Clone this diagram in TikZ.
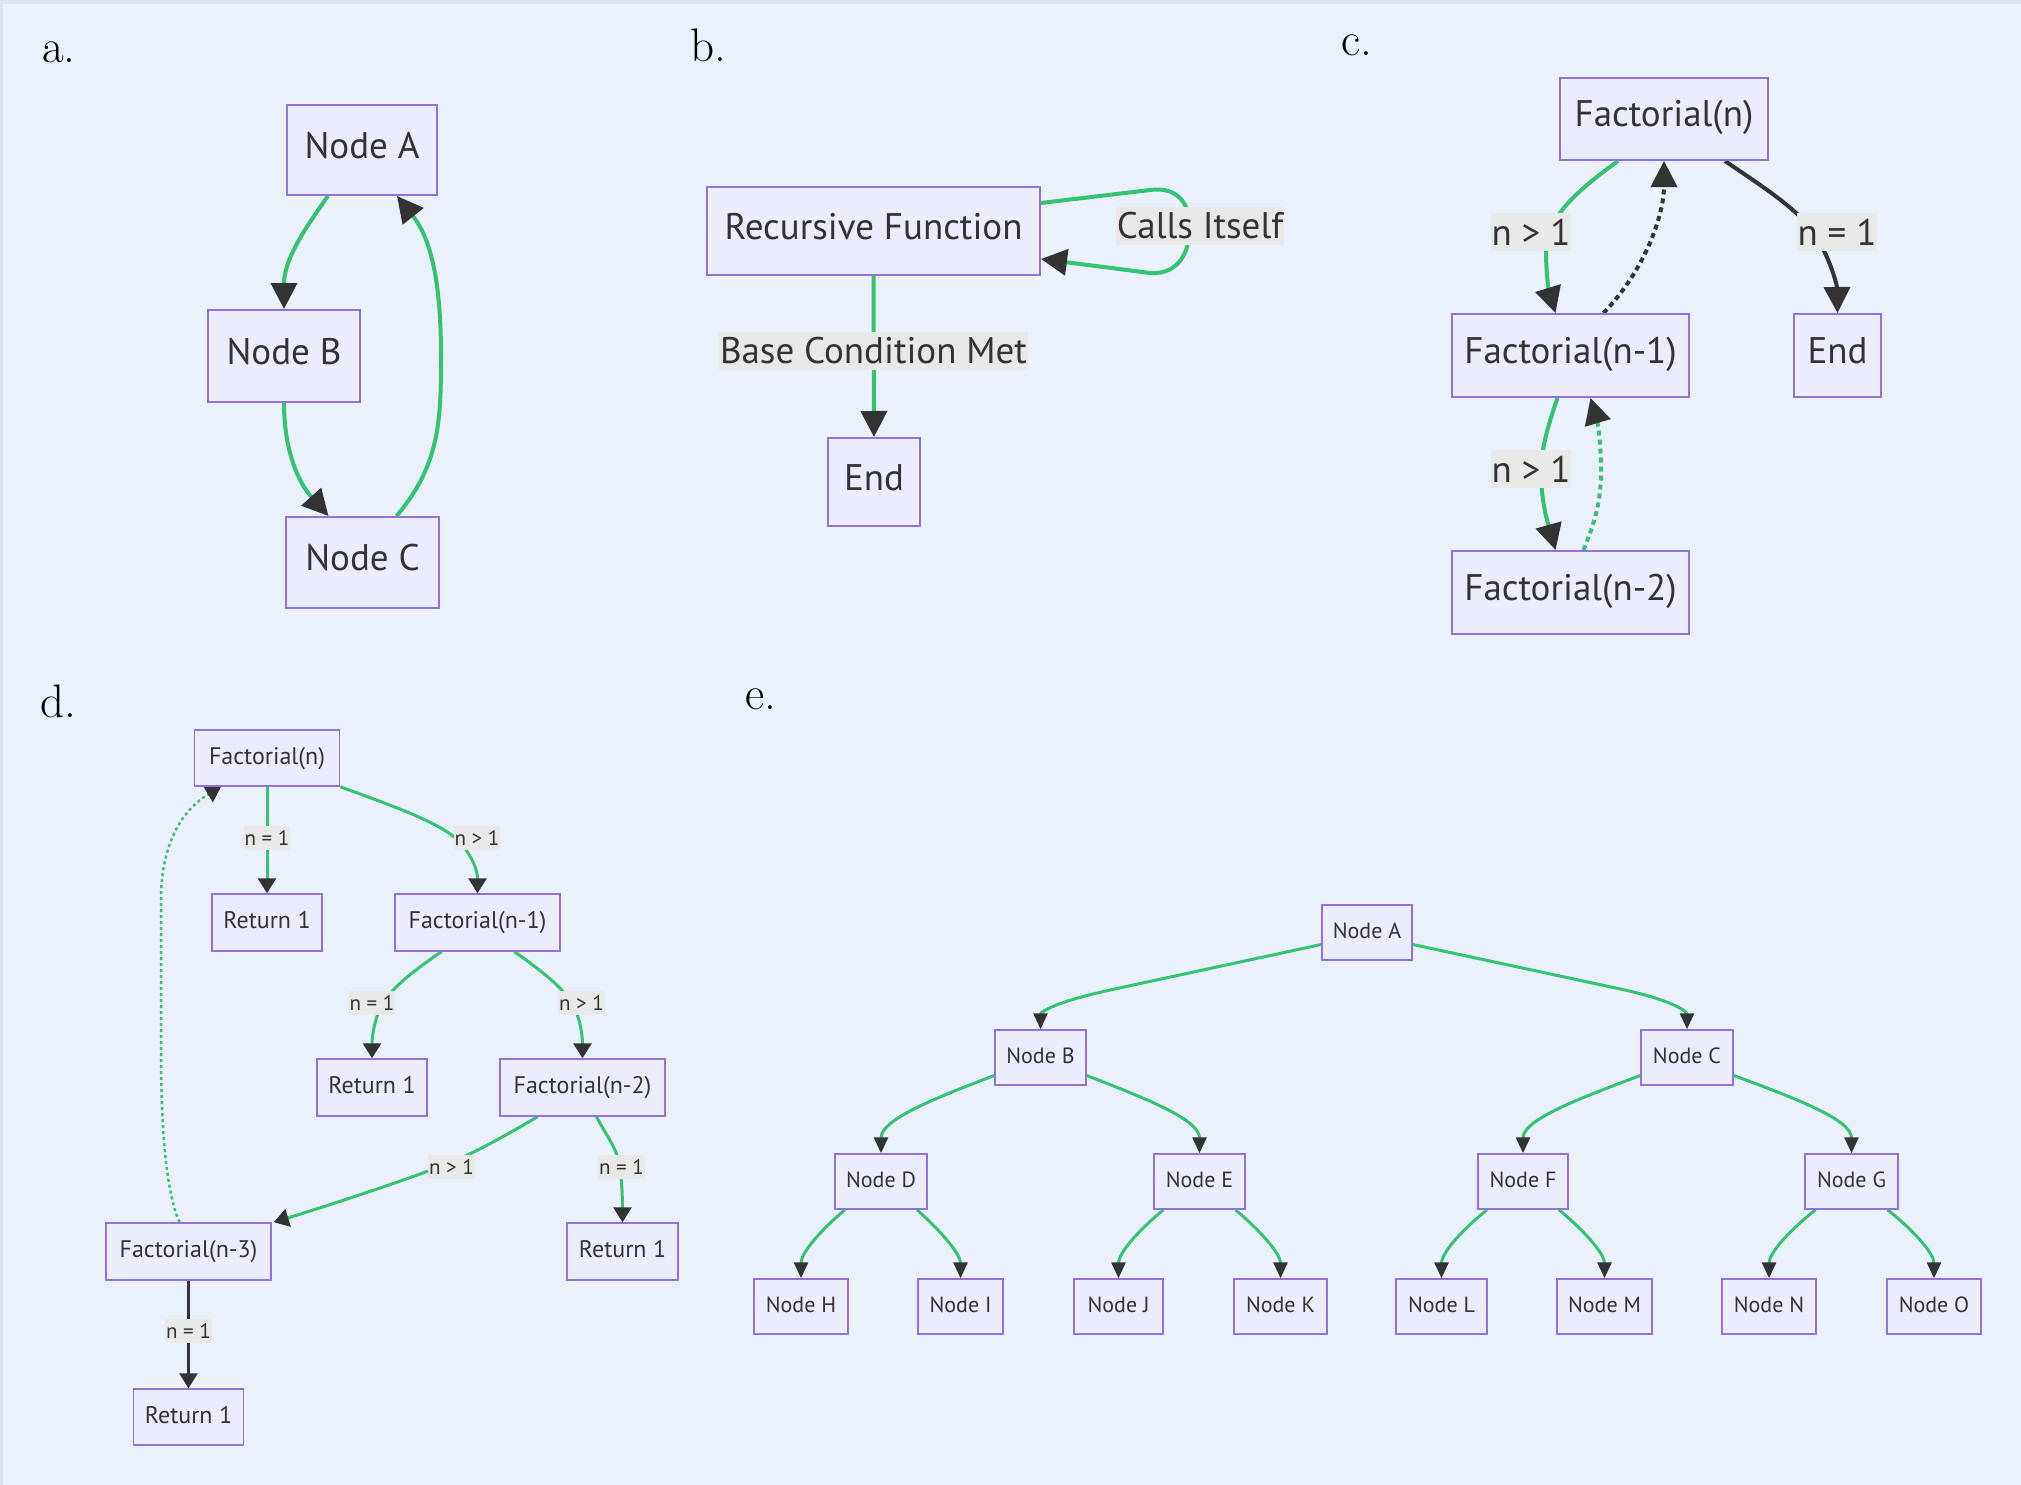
\documentclass[tikz,border=0pt]{standalone}
\usepackage{fontspec}
\setsansfont{PT Sans}
\usetikzlibrary{arrows.meta,calc}
\definecolor{bgC}{HTML}{EAF1FD}
\definecolor{stripC}{HTML}{DCE3F0}
\definecolor{nodeF}{HTML}{ECECFF}
\definecolor{nodeS}{HTML}{9370DB}
\definecolor{txtC}{HTML}{333333}
\definecolor{edgeG}{HTML}{34C370}
\definecolor{darkC}{HTML}{333333}
\definecolor{lblC}{HTML}{E8E8E6}
\pgfdeclarelayer{bgl}\pgfdeclarelayer{edgel}\pgfsetlayers{bgl,edgel,main}
\tikzset{
 nd/.style={draw=nodeS, fill=nodeF, text=txtC, inner sep=0pt},
 ndbig/.style={nd, line width=2pt, font=\sffamily\fontsize{37}{44}\selectfont, text height=27pt, text depth=11pt},
 ndd/.style={nd, line width=1.5pt, font=\sffamily\fontsize{24}{28}\selectfont, minimum height=57pt, text height=17pt, text depth=5pt},
 nde/.style={nd, line width=1.5pt, font=\sffamily\fontsize{22}{26}\selectfont, minimum height=55pt, text height=16pt, text depth=5pt},
 lbl/.style={fill=lblC, text=txtC, inner ysep=0pt, inner xsep=1pt},
 lblbig/.style={lbl, font=\sffamily\fontsize{37}{44}\selectfont, minimum height=38pt},
 lbld/.style={lbl, font=\sffamily\fontsize{21}{25}\selectfont, minimum height=24pt},
 panel/.style={font=\fontsize{47}{50}\selectfont, anchor=base west, text=black, inner sep=0pt},
 ge/.style={draw=edgeG, line width=4pt},
 de/.style={draw=darkC, line width=4pt},
 ged/.style={draw=edgeG, line width=3pt},
 dkd/.style={draw=darkC, line width=3pt},
 gee/.style={draw=edgeG, line width=3pt},
 tipA/.style={-{Triangle[length=26pt,width=26pt,color=darkC]}},
 tipD/.style={-{Triangle[length=15pt,width=18pt,color=darkC]}},
 tipE/.style={-{Triangle[length=16pt,width=14pt,color=darkC]}},
 dotc/.style={dash pattern=on 5pt off 4pt},
 dotd/.style={dash pattern=on 3pt off 3pt},
}
\begin{document}
\begin{tikzpicture}[x=1pt,y=-1pt]
\useasboundingbox (0,0) rectangle (2021,1485);
\begin{pgfonlayer}{bgl}
\fill[bgC] (0,0) rectangle (2021,1485);
\fill[stripC] (0,0) rectangle (2021,4);
\fill[stripC] (0,0) rectangle (3,1485);
\end{pgfonlayer}

% ---------- panel a ----------
\node[panel] (pa) at (42,63) {a.};
\node[ndbig, minimum width=150pt, minimum height=90pt] (aA) at (362,150) {Node A};
\node[ndbig, minimum width=152pt, minimum height=92pt] (aB) at (284,356) {Node B};
\node[ndbig, minimum width=153pt, minimum height=91pt] (aC) at (362.5,562.5) {Node C};
\begin{pgfonlayer}{edgel}
\draw[ge,tipA] ([xshift=-34pt]aA.south) .. controls (300,235) and (284,262) .. (aB.north);
\draw[ge,tipA] (aB.south) .. controls (284,450) and (298,482) .. ([xshift=-34pt]aC.north);
\draw[ge,tipA] ([xshift=34pt]aC.north) .. controls (440,465) and (441,420) .. (441,356) .. controls (441,285) and (432,240) .. ([xshift=35pt]aA.south);
\end{pgfonlayer}

% ---------- panel b ----------
\node[panel] (pb) at (690,62) {b.};
\node[ndbig, minimum width=333pt, minimum height=88pt] (bR) at (873.5,231) {Recursive Function};
\node[ndbig, minimum width=92pt, minimum height=88pt] (bE) at (874,482) {End};
\node[lblbig] (bL1) at (1200,226) {Calls Itself};
\node[lblbig] (bL2) at (873.5,351) {Base Condition Met};
\begin{pgfonlayer}{edgel}
\draw[ge,tipA] (bR.south) -- (bE.north);
\draw[ge,tipA] ([yshift=28pt]bR.east) -- (1150,190) .. controls (1178,186) and (1190,205) .. (1190,226) .. controls (1190,250) and (1180,275) .. (1150,273) -- ([yshift=-28pt]bR.east);
\end{pgfonlayer}

% ---------- panel c ----------
\node[panel] (pc) at (1341,56) {c.};
\node[ndbig, minimum width=208pt, minimum height=82pt] (cN) at (1664,119) {Factorial(n)};
\node[ndbig, minimum width=237pt, minimum height=83pt] (cN1) at (1570.5,355.5) {Factorial(n-1)};
\node[ndbig, minimum width=87pt, minimum height=83pt] (cE) at (1837.5,355.5) {End};
\node[ndbig, minimum width=237pt, minimum height=83pt] (cN2) at (1570.5,592.5) {Factorial(n-2)};
\node[lblbig] (cL1) at (1531,232) {n > 1};
\node[lblbig] (cL2) at (1837,232) {n = 1};
\node[lblbig] (cL3) at (1531,469) {n > 1};
\begin{pgfonlayer}{edgel}
\draw[ge,tipA] ([xshift=-46pt]cN.south) .. controls (1585,185) and (1546,215) .. (1546,250) .. controls (1546,280) and (1550,295) .. ([xshift=-15pt]cN1.north);
\draw[de,dotc,tipA] ([xshift=33pt]cN1.north) .. controls (1645,270) and (1664,215) .. (cN.south);
\draw[de,tipA] ([xshift=61pt]cN.south) .. controls (1760,185) and (1800,210) .. (1815,235) .. controls (1830,258) and (1837,285) .. (cE.north);
\draw[ge,tipA] ([xshift=-13pt]cN1.south) .. controls (1548,425) and (1541,450) .. (1541,472) .. controls (1541,505) and (1550,530) .. ([xshift=-15pt]cN2.north);
\draw[ge,dotc,tipA] ([xshift=13pt]cN2.north) .. controls (1598,515) and (1601,495) .. (1601,470) .. controls (1601,440) and (1597,420) .. ([xshift=20pt]cN1.south);
\end{pgfonlayer}

% ---------- panel d ----------
\node[panel] (pd) at (40,717) {d.};
\node[ndd, minimum width=145pt, minimum height=56pt] (dN) at (267,758) {Factorial(n)};
\node[ndd, minimum width=110pt] (dR1) at (267,922.5) {Return 1};
\node[ndd, minimum width=165pt] (dN1) at (477.5,922.5) {Factorial(n-1)};
\node[ndd, minimum width=110pt] (dR2) at (372,1087.5) {Return 1};
\node[ndd, minimum width=165pt] (dN2) at (582.5,1087.5) {Factorial(n-2)};
\node[ndd, minimum width=165pt] (dN3) at (188.5,1251.5) {Factorial(n-3)};
\node[ndd, minimum width=111pt] (dR3) at (622.5,1251.5) {Return 1};
\node[ndd, minimum width=110pt, minimum height=56pt] (dR4) at (188.5,1417) {Return 1};
\node[lbld] (dL1) at (267,838) {n = 1};
\node[lbld] (dL2) at (477,838) {n > 1};
\node[lbld] (dL3) at (372,1003) {n = 1};
\node[lbld] (dL4) at (581.5,1003) {n > 1};
\node[lbld] (dL5) at (451.5,1167) {n > 1};
\node[lbld] (dL6) at (621.5,1167) {n = 1};
\node[lbld] (dL7) at (188.5,1331) {n = 1};
\begin{pgfonlayer}{edgel}
\draw[ged,tipD] (dN.south) -- (dR1.north);
\draw[ged,tipD] (dN.south east) .. controls (390,805) and (440,822) .. (460,842) .. controls (473,858) and (477.5,870) .. (dN1.north);
\draw[ged,tipD] ([xshift=-36pt]dN1.south) .. controls (420,966) and (395,985) .. (385,1000) .. controls (375,1015) and (372,1035) .. (dR2.north);
\draw[ged,tipD] ([xshift=37pt]dN1.south) .. controls (535,966) and (560,985) .. (570,1000) .. controls (580,1015) and (582.5,1035) .. (dN2.north);
\draw[ged,tipD] ([xshift=-45pt]dN2.south) .. controls (510,1133) and (480,1150) .. (450,1163) .. controls (400,1182) and (330,1205) .. ([xshift=2pt]dN3.north east);
\draw[ged,tipD] ([xshift=14pt]dN2.south) .. controls (606,1135) and (618,1150) .. (620,1167) .. controls (622,1185) and (622.5,1200) .. (dR3.north);
\draw[dkd,tipD] (dN3.south) -- (dR4.north);
\draw[ged,line width=2.5pt,dotd,tipD] ([xshift=-9pt]dN3.north) .. controls (165,1190) and (161,1120) .. (161,1050) -- (161,900) .. controls (161,840) and (185,808) .. ([xshift=-46pt]dN.south);
\end{pgfonlayer}

% ---------- panel e ----------
\node[panel] (pe) at (745,709) {e.};
\node[nde, minimum width=90pt] (eA) at (1367,932.5) {Node A};
\node[nde, minimum width=91pt] (eB) at (1040.5,1057.5) {Node B};
\node[nde, minimum width=92pt] (eC) at (1687,1057.5) {Node C};
\node[nde, minimum width=92pt] (eD) at (881,1181.5) {Node D};
\node[nde, minimum width=91pt] (eE) at (1199.5,1181.5) {Node E};
\node[nde, minimum width=90pt] (eF) at (1523,1181.5) {Node F};
\node[nde, minimum width=93pt] (eG) at (1851.5,1181.5) {Node G};
\node[nde, minimum width=94pt] (eH) at (801,1306.5) {Node H};
\node[nde, minimum width=85pt] (eI) at (960.5,1306.5) {Node I};
\node[nde, minimum width=89pt] (eJ) at (1118.5,1306.5) {Node J};
\node[nde, minimum width=93pt] (eK) at (1280.5,1306.5) {Node K};
\node[nde, minimum width=91pt] (eL) at (1441.5,1306.5) {Node L};
\node[nde, minimum width=95pt] (eM) at (1604.5,1306.5) {Node M};
\node[nde, minimum width=94pt] (eN) at (1769,1306.5) {Node N};
\node[nde, minimum width=94pt] (eO) at (1934,1306.5) {Node O};
\begin{pgfonlayer}{edgel}
\draw[gee,tipE] ([yshift=-12pt]eA.west) -- (1110,990) .. controls (1055,1002) and (1040.5,1012) .. (eB.north);
\draw[gee,tipE] ([yshift=-12pt]eA.east) -- (1625,990) .. controls (1677,1002) and (1687,1012) .. (eC.north);
\draw[gee,tipE] ([yshift=-18pt]eB.west) .. controls (930,1100) and (881,1120) .. (eD.north);
\draw[gee,tipE] ([yshift=-18pt]eB.east) .. controls (1150,1100) and (1199.5,1120) .. (eE.north);
\draw[gee,tipE] ([yshift=-18pt]eC.west) .. controls (1575,1100) and (1523,1120) .. (eF.north);
\draw[gee,tipE] ([yshift=-18pt]eC.east) .. controls (1800,1100) and (1851.5,1120) .. (eG.north);
\draw[gee,tipE] ([xshift=-36pt]eD.south) .. controls (815,1235) and (801,1255) .. (eH.north);
\draw[gee,tipE] ([xshift=36pt]eD.south) .. controls (945,1235) and (960.5,1255) .. (eI.north);
\draw[gee,tipE] ([xshift=-36pt]eE.south) .. controls (1133,1235) and (1118.5,1255) .. (eJ.north);
\draw[gee,tipE] ([xshift=36pt]eE.south) .. controls (1265,1235) and (1280.5,1255) .. (eK.north);
\draw[gee,tipE] ([xshift=-36pt]eF.south) .. controls (1456,1235) and (1441.5,1255) .. (eL.north);
\draw[gee,tipE] ([xshift=36pt]eF.south) .. controls (1589,1235) and (1604.5,1255) .. (eM.north);
\draw[gee,tipE] ([xshift=-36pt]eG.south) .. controls (1784,1235) and (1769,1255) .. (eN.north);
\draw[gee,tipE] ([xshift=36pt]eG.south) .. controls (1919,1235) and (1934,1255) .. (eO.north);
\end{pgfonlayer}
\end{tikzpicture}
\end{document}
